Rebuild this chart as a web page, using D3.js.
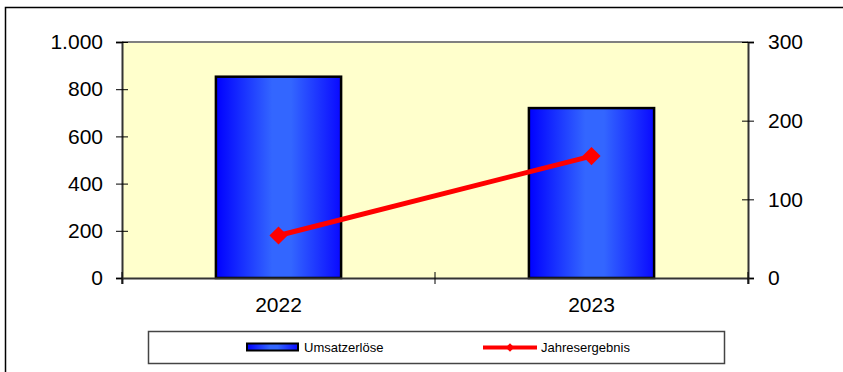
<!DOCTYPE html>
<html>
<head>
<meta charset="utf-8">
<script src="https://cdn.jsdelivr.net/npm/d3@7"></script>
<style>
  body { margin: 0; background: #fff; }
  svg { display: block; font-family: "Liberation Sans", Arial, sans-serif; }
</style>
</head>
<body>
<svg width="843" height="372"></svg>
<script>
const categories = ['2022', '2023'];
const umsatz = [853, 720];        // left axis, bars
const ergebnis = [54, 155];       // right axis, line
const leftTicks = [0, 200, 400, 600, 800, 1000];
const rightTicks = [0, 100, 200, 300];

const width = 843, height = 372,
    margin = { top: 42, right: 95, bottom: 94, left: 122 },
    plotW = width - margin.left - margin.right,
    plotH = height - margin.top - margin.bottom;

const fmt = d3.formatLocale({ decimal: ',', thousands: '.', grouping: [3], currency: ['', ' €'] }).format(',d');

const svg = d3.select('svg');

// outer chart frame
svg.append('rect')
    .attr('x', 5.5).attr('y', 7.5)
    .attr('width', 900).attr('height', 400)
    .attr('fill', 'none').attr('stroke', '#000').attr('stroke-width', 1.5);

const defs = svg.append('defs');
const grad = defs.append('linearGradient').attr('id', 'barGrad')
    .attr('x1', '0%').attr('x2', '100%').attr('y1', '0%').attr('y2', '0%');
grad.append('stop').attr('offset', '0%').attr('stop-color', '#0000ff');
grad.append('stop').attr('offset', '45%').attr('stop-color', '#3366ff');
grad.append('stop').attr('offset', '60%').attr('stop-color', '#3366ff');
grad.append('stop').attr('offset', '100%').attr('stop-color', '#0a0aff');

const g = svg.append('g').attr('transform', 'translate(' + margin.left + ',' + margin.top + ')');

const x = d3.scaleBand().domain(categories).range([0, plotW]).padding(0);
const yL = d3.scaleLinear().domain([0, 1000]).range([plotH, 0]);
const yR = d3.scaleLinear().domain([0, 300]).range([plotH, 0]);

// plot background
g.append('rect')
    .attr('width', plotW).attr('height', plotH)
    .attr('fill', '#ffffcc');
g.append('line')
    .attr('x1', 0).attr('x2', plotW).attr('y1', 0).attr('y2', 0)
    .attr('stroke', '#808080').attr('stroke-width', 2);

// bars
const barW = x.bandwidth() * 0.4;
g.selectAll('.bar')
    .data(categories)
    .enter().append('rect')
    .attr('class', 'bar')
    .attr('x', d => x(d) + (x.bandwidth() - barW) / 2)
    .attr('y', (d, i) => yL(umsatz[i]))
    .attr('width', barW)
    .attr('height', (d, i) => plotH - yL(umsatz[i]))
    .attr('fill', 'url(#barGrad)')
    .attr('stroke', '#000').attr('stroke-width', 2.5);

// axes
const axisL = g.append('g')
    .call(d3.axisLeft(yL).tickValues(leftTicks).tickFormat(fmt).tickSize(6).tickPadding(13));
const axisR = g.append('g').attr('transform', 'translate(' + plotW + ',0)')
    .call(d3.axisRight(yR).tickValues(rightTicks).tickFormat(fmt).tickSize(6).tickPadding(14));
const axisB = g.append('g').attr('transform', 'translate(0,' + plotH + ')')
    .call(d3.axisBottom(x).tickSize(6).tickPadding(13));

[axisL, axisR, axisB].forEach(a => {
    a.select('.domain').attr('stroke', '#333').attr('stroke-width', 2);
    a.selectAll('.tick line').attr('stroke', '#000').attr('stroke-width', 1);
    a.selectAll('text').attr('font-size', 21).attr('fill', '#000')
        .attr('font-family', '"Liberation Sans", Arial, sans-serif');
});
// ticks crossing the axis
axisL.selectAll('.tick line').attr('x1', 6);
axisR.selectAll('.tick line').attr('x1', -6);
axisB.selectAll('.tick line').remove();
axisB.selectAll('.sep')
    .data([0, x.bandwidth(), plotW])
    .enter().append('line')
    .attr('x1', d => d).attr('x2', d => d)
    .attr('y1', -6).attr('y2', 6)
    .attr('stroke', '#000');

// line series
const line = d3.line()
    .x((d, i) => x(categories[i]) + x.bandwidth() / 2)
    .y(d => yR(d));
g.append('path')
    .datum(ergebnis)
    .attr('d', line)
    .attr('fill', 'none').attr('stroke', '#ff0000').attr('stroke-width', 5);

const diamond = d3.symbol().type(d3.symbolSquare).size(165);
g.selectAll('.pt')
    .data(ergebnis)
    .enter().append('path')
    .attr('d', diamond)
    .attr('transform', (d, i) => 'translate(' + (x(categories[i]) + x.bandwidth() / 2) + ',' + yR(d) + ') rotate(45)')
    .attr('fill', '#ff0000');

// legend
const lg = svg.append('g');
lg.append('rect')
    .attr('x', 148.5).attr('y', 331.5).attr('width', 576).attr('height', 32)
    .attr('fill', '#fff').attr('stroke', '#444').attr('stroke-width', 1.5);
lg.append('rect')
    .attr('x', 247).attr('y', 343.5).attr('width', 51).attr('height', 7)
    .attr('fill', 'url(#barGrad)').attr('stroke', '#000').attr('stroke-width', 2);
lg.append('text')
    .attr('x', 304).attr('y', 352)
    .attr('font-size', 13).text('Umsatzerlöse');
lg.append('line')
    .attr('x1', 483).attr('x2', 537).attr('y1', 347.5).attr('y2', 347.5)
    .attr('stroke', '#ff0000').attr('stroke-width', 4);
lg.append('path')
    .attr('d', d3.symbol().type(d3.symbolSquare).size(36))
    .attr('transform', 'translate(510,347.5) rotate(45)')
    .attr('fill', '#ff0000');
lg.append('text')
    .attr('x', 541).attr('y', 352)
    .attr('font-size', 13).text('Jahresergebnis');
</script>
</body>
</html>
